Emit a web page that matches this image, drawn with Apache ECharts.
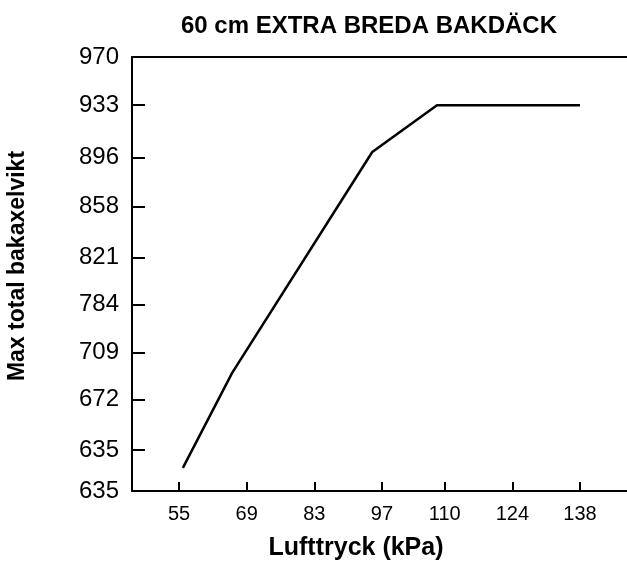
<!DOCTYPE html>
<html>
<head>
<meta charset="utf-8">
<script src="https://cdn.jsdelivr.net/npm/echarts@6/dist/echarts.min.js"></script>
<style>
  html, body { margin: 0; padding: 0; background: #fff; }
  #chart { width: 627px; height: 563px; }
</style>
</head>
<body>
<div id="chart"></div>
<script>
// tire pressure in kPa, tick labels on the x axis
var xTicks = [55, 69, 83, 97, 110, 124, 138];
// y axis: tick positions (in tick steps) and their printed labels
var yTickPos = [0, 0.85, 1.89, 2.87, 3.87, 4.84, 5.9, 6.92, 8, 9];
var yTickLabels = ['635', '635', '672', '709', '784', '821', '858', '896', '933', '970'];

// the load curve, pressure vs max rear axle load (in the same tick steps)
var pressure = [55.8, 66, 95, 108.4, 138];
var load = [0.48, 2.45, 7.03, 8, 8];

var font = 'Liberation Sans, Arial, sans-serif';
var myChart = echarts.init(document.getElementById('chart'));

var labelFor = {};
yTickPos.forEach(function (p, i) { labelFor[p] = yTickLabels[i]; });

myChart.setOption({
  backgroundColor: '#fff',
  animation: false,
  title: {
    text: '60 cm EXTRA BREDA BAKDÄCK',
    left: 364,
    textAlign: 'center',
    top: 9,
    textStyle: { fontFamily: font, fontSize: 24, fontWeight: 'bold', color: '#000' }
  },
  grid: { left: 132, right: 0, top: 57, bottom: 72, outerBoundsMode: 'none', containLabel: false },
  xAxis: [{
    type: 'value',
    min: 45.27,
    max: 147.73,
    name: 'Lufttryck (kPa)',
    nameLocation: 'middle',
    nameGap: 45,
    nameTextStyle: { fontFamily: font, fontSize: 25, fontWeight: 'bold', color: '#000', padding: [0, 47, 0, 0] },
    splitLine: { show: false },
    axisLine: { lineStyle: { color: '#000', width: 2 } },
    axisTick: { inside: true, length: 9, customValues: xTicks, lineStyle: { color: '#000', width: 2 } },
    axisLabel: { customValues: xTicks, margin: 13, fontFamily: font, fontSize: 20, color: '#000' }
  }, {
    type: 'value',
    position: 'top',
    min: 45.27,
    max: 147.73,
    splitLine: { show: false },
    axisLine: { show: true, lineStyle: { color: '#000', width: 2 } },
    axisTick: { show: false },
    axisLabel: { show: false }
  }],
  yAxis: {
    type: 'value',
    min: 0,
    max: 9,
    name: 'Max total bakaxelvikt',
    nameLocation: 'middle',
    nameGap: 103,
    nameTextStyle: { fontFamily: font, fontSize: 23, fontWeight: 'bold', color: '#000', padding: [0, 0, 0, 16] },
    splitLine: { show: false },
    axisLine: { show: true, lineStyle: { color: '#000', width: 2 } },
    axisTick: { inside: true, length: 13, customValues: yTickPos, lineStyle: { color: '#000', width: 2 } },
    axisLabel: {
      customValues: yTickPos,
      margin: 13,
      fontFamily: font,
      fontSize: 24,
      color: '#000',
      formatter: function (v) { return labelFor[v]; }
    }
  },
  series: [{
    type: 'line',
    data: pressure.map(function (p, i) { return [p, load[i]]; }),
    symbol: 'none',
    lineStyle: { color: '#000', width: 2.5 }
  }]
});
</script>
</body>
</html>
